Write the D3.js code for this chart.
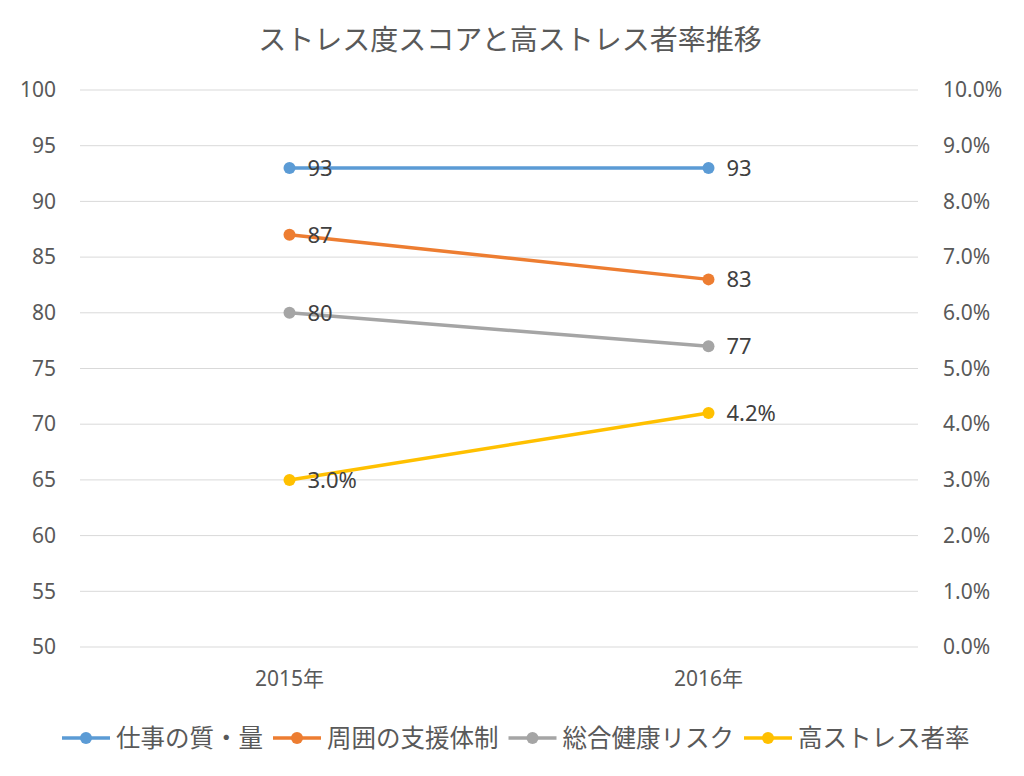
<!DOCTYPE html>
<html><head><meta charset="utf-8">
<script src="https://cdn.jsdelivr.net/npm/d3@7"></script>
<style>body{margin:0;background:#fff}</style>
</head><body>
<svg id="c" width="1024" height="776"></svg>
<script>
const title = "ストレス度スコアと高ストレス者率推移";
const categories = ["2015年", "2016年"];
const seriesNames = ["仕事の質・量", "周囲の支援体制", "総合健康リスク", "高ストレス者率"];
const workQuality = [93, 93];
const support = [87, 83];
const healthRisk = [80, 77];
const highStressRate = [0.030, 0.042];
const leftTicks = [50, 55, 60, 65, 70, 75, 80, 85, 90, 95, 100];
const rightTicks = [0, 0.01, 0.02, 0.03, 0.04, 0.05, 0.06, 0.07, 0.08, 0.09, 0.10];
const colors = ["#5B9BD5", "#ED7D31", "#A5A5A5", "#FFC000"];

const font = "'Noto Sans','Noto Sans CJK JP',sans-serif";
const cjk = "'Noto Sans CJK JP',sans-serif";
const svg = d3.select("#c").style("font-family", font);
const L = 80, R = 918, T = 90, B = 647;

const x = d3.scaleBand().domain(categories).range([L, R]);
const yL = d3.scaleLinear().domain([50, 100]).range([B, T]);
const yR = d3.scaleLinear().domain([0, 0.10]).range([B, T]);

svg.append("text").attr("x", 510).attr("y", 40).attr("dy", "0.35em").attr("text-anchor", "middle")
  .attr("font-size", 28).attr("fill", "#595959")
  .attr("font-family", cjk).text(title);

// gridlines
svg.append("g").selectAll("line").data(leftTicks).join("line")
  .attr("x1", L).attr("x2", R).attr("y1", d => yL(d)).attr("y2", d => yL(d))
  .attr("stroke", "#D9D9D9").attr("stroke-width", 1);

// left axis
const gl = svg.append("g").attr("transform", `translate(${L - 24},0)`)
  .call(d3.axisLeft(yL).tickValues(leftTicks).tickSize(0).tickPadding(0));
gl.select(".domain").remove();
gl.selectAll("text").attr("font-size", 21).attr("fill", "#595959").attr("font-family", font);

// right axis
const gr = svg.append("g").attr("transform", `translate(${R + 25},0)`)
  .call(d3.axisRight(yR).tickValues(rightTicks).tickFormat(d3.format(".1%")).tickSize(0).tickPadding(0));
gr.select(".domain").remove();
gr.selectAll("text").attr("font-size", 21).attr("fill", "#595959").attr("font-family", font);

// bottom axis
const gb = svg.append("g").attr("transform", `translate(0,${B + 24})`)
  .call(d3.axisBottom(x).tickSize(0).tickPadding(0));
gb.select(".domain").remove();
gb.selectAll("text").attr("font-size", 21).attr("fill", "#595959").attr("font-family", font);

const series = [
  {name: seriesNames[0], vals: workQuality, y: yL, fmt: d => d},
  {name: seriesNames[1], vals: support, y: yL, fmt: d => d},
  {name: seriesNames[2], vals: healthRisk, y: yL, fmt: d => d},
  {name: seriesNames[3], vals: highStressRate, y: yR, fmt: d3.format(".1%")}
];
const cx = c => x(c) + x.bandwidth() / 2;

series.forEach((s, i) => {
  const g = svg.append("g");
  const pts = categories.map((c, j) => [cx(c), s.y(s.vals[j])]);
  g.append("path").attr("d", d3.line()(pts)).attr("fill", "none")
    .attr("stroke", colors[i]).attr("stroke-width", 3.5).attr("stroke-linecap", "round");
  g.selectAll("circle").data(pts).join("circle")
    .attr("cx", d => d[0]).attr("cy", d => d[1]).attr("r", 6).attr("fill", colors[i]);
  g.selectAll("text").data(categories).join("text")
    .attr("x", c => cx(c) + 18).attr("y", (c, j) => s.y(s.vals[j]))
    .attr("dy", "0.35em").attr("font-size", 22).attr("fill", "#404040")
    .text((c, j) => s.fmt(s.vals[j]));
});

// legend
const lg = svg.append("g");
let lx = 62;
const ly = 738;
seriesNames.forEach((n, i) => {
  lg.append("line").attr("x1", lx).attr("x2", lx + 48).attr("y1", ly).attr("y2", ly)
    .attr("stroke", colors[i]).attr("stroke-width", 3.5);
  lg.append("circle").attr("cx", lx + 24).attr("cy", ly).attr("r", 6).attr("fill", colors[i]);
  const t = lg.append("text").attr("x", lx + 54).attr("y", ly).attr("dy", "0.35em")
    .attr("font-size", 24.5).attr("fill", "#595959")
    .attr("font-family", cjk).text(n);
  lx += 54 + t.node().getComputedTextLength() + 10;
});
</script>
</body></html>
